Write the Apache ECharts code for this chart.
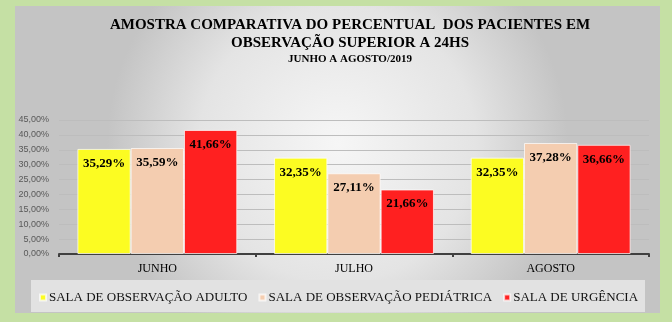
<!DOCTYPE html>
<html><head><meta charset="utf-8">
<script src="https://cdn.jsdelivr.net/npm/echarts@6/dist/echarts.min.js"></script>
<style>html,body{margin:0;padding:0;background:#c5e0a4}#c{width:672px;height:322px}</style>
</head><body><div id="c"></div>
<script>
const categories = ['JUNHO', 'JULHO', 'AGOSTO'];
const seriesNames = ['SALA DE OBSERVAÇÃO ADULTO', 'SALA DE OBSERVAÇÃO PEDIÁTRICA', 'SALA DE URGÊNCIA'];
const adulto = [35.29, 32.35, 32.35];
const pediatrica = [35.59, 27.11, 37.28];
const urgencia = [41.66, 21.66, 36.66];
const colors = ['#fcfc22', '#f4cdb0', '#ff2020'];
const titleLines = ['AMOSTRA COMPARATIVA DO PERCENTUAL  DOS PACIENTES EM', 'OBSERVAÇÃO SUPERIOR A 24HS', 'JUNHO A AGOSTO/2019'];

const fmt = v => v.toFixed(2).replace('.', ',') + '%';
const chart = echarts.init(document.getElementById('c'), null, {renderer: 'canvas'});
const serif = '"Liberation Serif", "Times New Roman", serif';
const mk = (name, data, color) => ({
  name, type: 'bar', data, barGap: '0%', barCategoryGap: '18.7%',
  itemStyle: {color, borderColor: 'rgba(255,255,255,0.7)', borderWidth: 1},
  label: {show: true, position: 'insideTop', distance: 8, formatter: p => fmt(p.value),
    fontFamily: serif, fontWeight: 'bold', fontSize: 13, color: '#000'}
});
chart.setOption({
  backgroundColor: '#c5e0a4',
  animation: false,
  graphic: [
    {type: 'rect', shape: {x: 15, y: 6, width: 645, height: 307}, z: -10, silent: true,
     style: {fill: new echarts.graphic.RadialGradient(0.5, 0.45, 0.75, [
       {offset: 0, color: '#f6f6f6'}, {offset: 0.6, color: '#e4e4e4'}, {offset: 1, color: '#c4c4c4'}])}},
    {type: 'rect', shape: {x: 31, y: 280, width: 614, height: 32}, z: -9, silent: true,
     style: {fill: '#e2e2e2'}}
  ],
  title: [
    {text: titleLines[0], left: 345, top: 13, textAlign: 'center',
     textStyle: {fontFamily: serif, fontWeight: 'bold', fontSize: 15, color: '#000'}},
    {text: titleLines[1], left: 345, top: 31, textAlign: 'center',
     textStyle: {fontFamily: serif, fontWeight: 'bold', fontSize: 15, color: '#000'}},
    {text: titleLines[2], left: 345, top: 49, textAlign: 'center',
     textStyle: {fontFamily: serif, fontWeight: 'bold', fontSize: 11, color: '#000'}}
  ],
  legend: {
    data: seriesNames, left: 34, top: 286, icon: 'rect', itemWidth: 6, itemHeight: 6, itemGap: 11,
    textStyle: {fontFamily: serif, fontSize: 13, color: '#111', padding: [0, 0, 0, -2]}
  },
  grid: {left: 59, right: 23, top: 120, bottom: 68},
  xAxis: {
    type: 'category', data: categories,
    axisLine: {lineStyle: {color: '#404040', width: 2}},
    axisTick: {show: true, length: 3, lineStyle: {color: '#404040', width: 2}},
    axisLabel: {fontFamily: serif, fontSize: 12, color: '#000', margin: 9}
  },
  yAxis: {
    type: 'value', min: 0, max: 45, interval: 5,
    axisLine: {show: false}, axisTick: {show: false},
    splitLine: {lineStyle: {color: '#bdbdbd', width: 1}},
    axisLabel: {formatter: v => fmt(v), fontFamily: '"Liberation Sans", Arial, sans-serif', fontSize: 9, color: '#595959', margin: 10}
  },
  series: [mk(seriesNames[0], adulto, colors[0]), mk(seriesNames[1], pediatrica, colors[1]), mk(seriesNames[2], urgencia, colors[2])]
});
</script></body></html>
